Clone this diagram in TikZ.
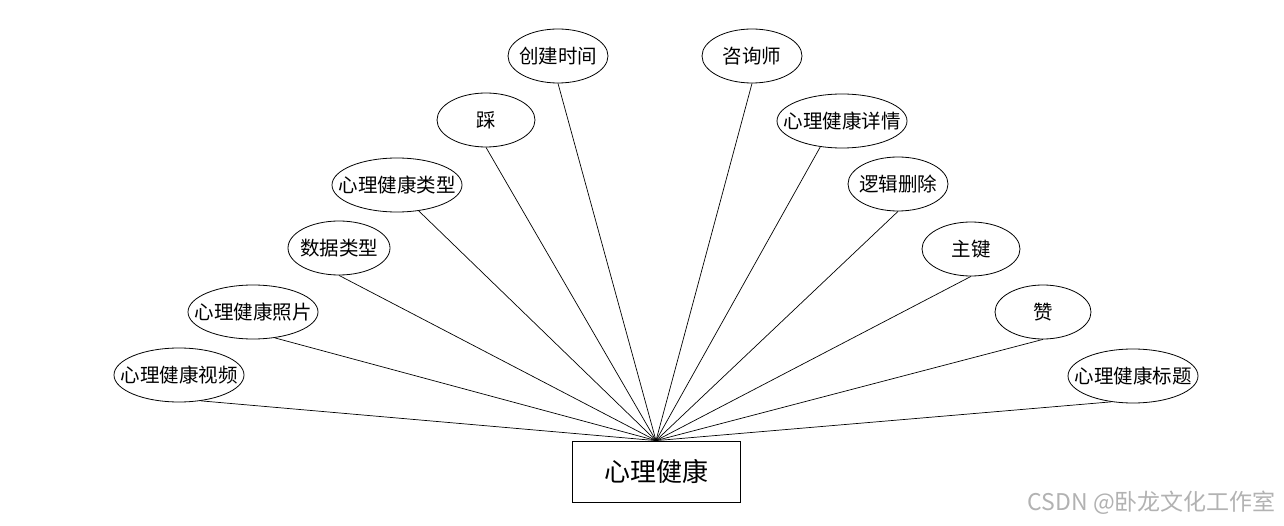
\documentclass[tikz,border=0pt]{standalone}
\usepackage{fontspec}
\setmainfont{Noto Sans CJK SC}
\usetikzlibrary{shapes.geometric}
\newcommand{\zw}[1]{\makebox[0pt]{#1}}
\begin{document}
\begin{tikzpicture}[x=1pt,y=-1pt,
  attr/.style={draw,ellipse,line width=0.8pt,inner sep=0pt,minimum height=54pt,font=\fontsize{19.5}{19.5}\selectfont},
  wide/.style={attr,minimum width=130pt},
  mid/.style={attr,minimum width=100pt},
  entity/.style={draw,rectangle,line width=0.8pt,minimum width=168pt,minimum height=61pt,inner sep=0pt,font=\fontsize{26}{26}\selectfont},
  link/.style={line width=0.7pt}]
\useasboundingbox (0,0) rectangle (1284,526);
\fill[white] (0,0) rectangle (1284,526);
\node[entity] (root) at (656,471.5) {心理健康};
\node[wide] (a1) at (179,375) {\zw{心理健康视频}};
\node[wide] (a2) at (253,312) {\zw{心理健康照片}};
\node[mid,minimum width=102pt] (a3) at (339,248) {\zw{数据类型}};
\node[wide] (a4) at (397,185) {\zw{心理健康类型}};
\node[mid,minimum width=98pt] (a5) at (486,120) {\zw{踩}};
\node[mid] (a6) at (558,56) {\zw{创建时间}};
\node[mid] (a7) at (752,56) {\zw{咨询师}};
\node[wide] (a8) at (842,121) {\zw{心理健康详情}};
\node[mid] (a9) at (898,184) {\zw{逻辑删除}};
\node[mid,minimum width=98pt] (a10) at (971,249) {\zw{主键}};
\node[mid,minimum width=96pt] (a11) at (1043,312) {\zw{赞}};
\node[wide] (a12) at (1133,376) {\zw{心理健康标题}};
\foreach \i in {1,2,4} {\draw[link] (a\i.-50) -- (root.north);}
\foreach \i in {8,12} {\draw[link] (a\i.-130) -- (root.north);}
\foreach \i in {3,5,6,7,9,10,11} {\draw[link] (a\i.south) -- (root.north);}
\node[anchor=east,text=black!30,font=\fontsize{23}{23}\selectfont,inner sep=0pt] (wm) at (1276,503) {CSDN @卧龙文化工作室};
\end{tikzpicture}
\end{document}
